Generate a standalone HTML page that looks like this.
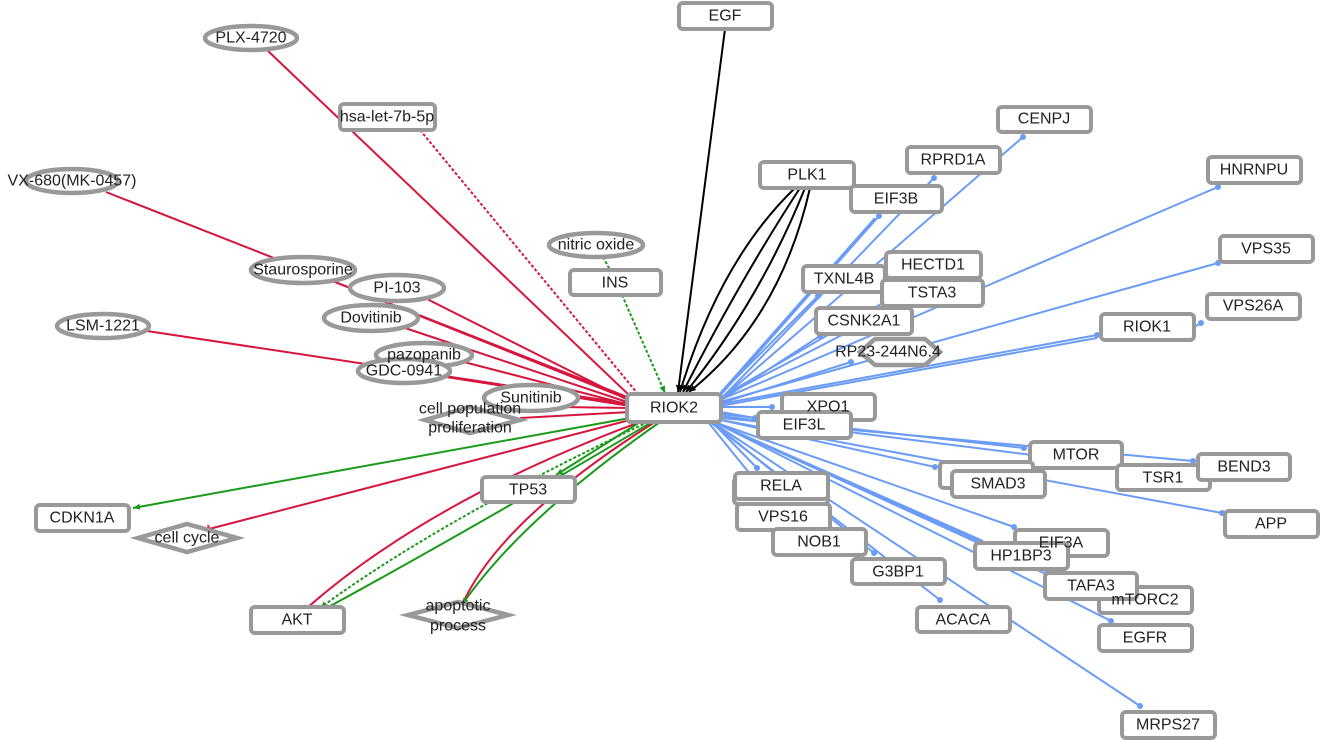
<!DOCTYPE html>
<html><head><meta charset="utf-8"><style>
html,body{margin:0;padding:0;background:#fff;width:1322px;height:740px;overflow:hidden}
svg text{font-family:"Liberation Sans",sans-serif;font-size:16px;fill:#222;text-anchor:middle;dominant-baseline:central}
.b rect{fill:#fff;stroke:#999;stroke-width:4}
.e ellipse,.d polygon{fill:#fff;stroke:#999;stroke-width:4.5}
.r{stroke:#d6163e;stroke-width:2;fill:none}
.g{stroke:#1a9a1a;stroke-width:2;fill:none}
.bl{stroke:#6b9cf5;stroke-width:2;fill:none}
.k{stroke:#000;stroke-width:2;fill:none}
.dot{fill:#6b9cf5}
</style></head><body>
<svg width="1322" height="740" xmlns="http://www.w3.org/2000/svg">
<defs>
<marker id="ag" markerUnits="userSpaceOnUse" markerWidth="8" markerHeight="8" refX="7" refY="3" orient="auto"><path d="M0,0L7,3L0,6z" fill="#1a9a1a"/></marker>
<marker id="ak" markerUnits="userSpaceOnUse" markerWidth="8" markerHeight="8" refX="7" refY="3" orient="auto"><path d="M0,0L7,3L0,6z" fill="#000"/></marker>
<marker id="tr" markerUnits="userSpaceOnUse" markerWidth="4" markerHeight="10" refX="2" refY="5" orient="auto"><path d="M2,1L2,9" stroke="#d6163e" stroke-width="2"/></marker>
</defs>
<g class="bl">
<line x1="720" y1="400" x2="1023" y2="137"/>
<line x1="720" y1="400" x2="934" y2="178"/>
<line x1="718" y1="398" x2="879" y2="216"/>
<line x1="716" y1="398" x2="875" y2="218"/>
<line x1="720" y1="400" x2="1218" y2="187"/>
<line x1="720" y1="402" x2="1218" y2="263"/>
<line x1="716" y1="398" x2="818" y2="296"/>
<line x1="716" y1="400" x2="905" y2="290"/>
<line x1="716" y1="400" x2="900" y2="305"/>
<line x1="718" y1="402" x2="820" y2="336"/>
<line x1="718" y1="404" x2="851" y2="362"/>
<line x1="720" y1="404" x2="1097" y2="335"/>
<line x1="720" y1="406" x2="1097" y2="338"/>
<line x1="1194" y1="327" x2="1203" y2="322"/>
<line x1="721" y1="407" x2="772" y2="407"/>
<line x1="721" y1="412" x2="755" y2="418"/>
<line x1="721" y1="414" x2="1024" y2="448"/>
<line x1="721" y1="416" x2="1152" y2="470"/>
<line x1="721" y1="418" x2="1193" y2="461"/>
<line x1="721" y1="420" x2="935" y2="467"/>
<line x1="721" y1="420" x2="1222" y2="513"/>
<line x1="712" y1="422" x2="757" y2="468"/>
<line x1="708" y1="422" x2="750" y2="474"/>
<line x1="712" y1="422" x2="830" y2="518"/>
<line x1="714" y1="422" x2="1014" y2="527"/>
<line x1="714" y1="422" x2="983" y2="541"/>
<line x1="712" y1="422" x2="874" y2="553"/>
<line x1="714" y1="422" x2="1070" y2="585"/>
<line x1="714" y1="422" x2="1110" y2="600"/>
<line x1="710" y1="422" x2="940" y2="600"/>
<line x1="714" y1="422" x2="1111" y2="621"/>
<line x1="712" y1="422" x2="1140" y2="706"/>
</g>
<g class="dot">
<circle cx="1023" cy="137" r="3"/><circle cx="934" cy="178" r="3"/><circle cx="879" cy="216" r="3"/><circle cx="1218" cy="187" r="3"/><circle cx="1218" cy="263" r="3"/><circle cx="818" cy="296" r="3"/><circle cx="820" cy="336" r="3"/><circle cx="851" cy="362" r="3"/><circle cx="1097" cy="335" r="3"/><circle cx="1201" cy="323" r="3"/><circle cx="772" cy="407" r="3"/><circle cx="755" cy="418" r="3"/><circle cx="1024" cy="448" r="3"/><circle cx="1152" cy="470" r="3"/><circle cx="1193" cy="461" r="3"/><circle cx="935" cy="467" r="3"/><circle cx="1222" cy="513" r="3"/><circle cx="757" cy="468" r="3"/><circle cx="830" cy="518" r="3"/><circle cx="1014" cy="527" r="3"/><circle cx="874" cy="553" r="3"/><circle cx="940" cy="600" r="3"/><circle cx="1111" cy="621" r="3"/><circle cx="1140" cy="706" r="3"/>
</g>
<line class="k" x1="725" y1="29" x2="678" y2="392" marker-end="url(#ak)"/>
<path class="k" d="M795,188 Q720,260 680,392" marker-end="url(#ak)"/>
<path class="k" d="M800,188 Q740,280 683,392" marker-end="url(#ak)"/>
<path class="k" d="M805,188 Q760,300 686,392" marker-end="url(#ak)"/>
<path class="k" d="M810,188 Q780,320 689,392" marker-end="url(#ak)"/>
<g class="r">
<line x1="267" y1="50" x2="630" y2="396" marker-end="url(#tr)"/>
<line x1="420" y1="130" x2="638" y2="394" stroke-dasharray="3,2"/>
<line x1="106" y1="192" x2="630" y2="398" marker-end="url(#tr)"/>
<line x1="330" y1="280" x2="630" y2="400" marker-end="url(#tr)"/>
<line x1="425" y1="298" x2="630" y2="401" marker-end="url(#tr)"/>
<line x1="405" y1="328" x2="630" y2="403" marker-end="url(#tr)"/>
<line x1="147" y1="331" x2="630" y2="404" marker-end="url(#tr)"/>
<line x1="460" y1="361" x2="630" y2="405" marker-end="url(#tr)"/>
<line x1="440" y1="376" x2="630" y2="406" marker-end="url(#tr)"/>
<line x1="560" y1="407" x2="630" y2="408" marker-end="url(#tr)"/>
<line x1="520" y1="418" x2="630" y2="412" marker-end="url(#tr)"/>
<line x1="630" y1="420" x2="209" y2="529" marker-end="url(#tr)"/>
<path d="M640,422 Q430,500 307,608" marker-end="url(#tr)"/>
<path d="M655,422 Q500,520 462,605" marker-end="url(#tr)"/>
</g>
<g class="g">
<line x1="630" y1="418" x2="133" y2="508" marker-end="url(#ag)"/>
<line x1="640" y1="422" x2="556" y2="475" marker-end="url(#ag)"/>
<path d="M648,422 Q440,520 320,608" stroke-dasharray="3,2" marker-end="url(#ag)"/>
<path d="M652,422 Q470,530 323,610" marker-end="url(#ag)"/>
<path d="M660,422 Q520,520 462,605" marker-end="url(#ag)"/>
<line x1="603" y1="257" x2="610" y2="270" stroke-dasharray="3,2"/>
<line x1="622" y1="295" x2="665" y2="393" stroke-dasharray="3,2" marker-end="url(#ag)"/>
</g>
<g class="e">
<ellipse cx="251" cy="38" rx="46" ry="12"/>
<ellipse cx="72" cy="181" rx="46" ry="12"/>
<ellipse cx="303" cy="270" rx="52" ry="13"/>
<ellipse cx="397" cy="288" rx="47" ry="13"/>
<ellipse cx="371" cy="318" rx="47" ry="13"/>
<ellipse cx="103" cy="326" rx="46" ry="12"/>
<ellipse cx="424" cy="355" rx="48" ry="12"/>
<ellipse cx="404" cy="371" rx="46" ry="12"/>
<ellipse cx="531" cy="398" rx="47" ry="13"/>
<ellipse cx="596" cy="245" rx="47" ry="12"/>
</g>
<g class="d">
<polygon points="425,420 470,407 520,420 470,433"/>
<polygon points="138,538 187,524 237,538 187,552"/>
<polygon points="408,615 458,602 508,615 458,628"/>
<polygon points="860,352 875,339 925,339 940,352 925,365 875,365"/>
</g>
<g class="b">
<rect x="340" y="104" width="95" height="26" rx="4"/>
<rect x="679" y="3" width="93" height="26" rx="4"/>
<rect x="998" y="107" width="93" height="25" rx="4"/>
<rect x="907" y="147" width="93" height="26" rx="4"/>
<rect x="1208" y="157" width="93" height="26" rx="4"/>
<rect x="760" y="162" width="94" height="26" rx="4"/>
<rect x="851" y="186" width="91" height="26" rx="4"/>
<rect x="1220" y="236" width="93" height="26" rx="4"/>
<rect x="803" y="266" width="82" height="26" rx="4"/>
<rect x="886" y="252" width="95" height="26" rx="4"/>
<rect x="882" y="280" width="101" height="26" rx="4"/>
<rect x="1207" y="294" width="93" height="25" rx="4"/>
<rect x="816" y="308" width="96" height="26" rx="4"/>
<rect x="1101" y="314" width="93" height="26" rx="4"/>
<rect x="570" y="270" width="91" height="25" rx="4"/>
<rect x="627" y="394" width="94" height="28" rx="4"/>
<rect x="782" y="394" width="93" height="26" rx="4"/>
<rect x="758" y="412" width="93" height="26" rx="4"/>
<rect x="1030" y="442" width="92" height="26" rx="4"/>
<rect x="940" y="462" width="93" height="26" rx="4"/>
<rect x="952" y="471" width="93" height="26" rx="4"/>
<rect x="1117" y="465" width="93" height="25" rx="4"/>
<rect x="1198" y="454" width="92" height="26" rx="4"/>
<rect x="1225" y="511" width="93" height="26" rx="4"/>
<rect x="734" y="478" width="94" height="26" rx="4"/>
<rect x="735" y="473" width="93" height="26" rx="4"/>
<rect x="737" y="504" width="93" height="26" rx="4"/>
<rect x="773" y="529" width="93" height="26" rx="4"/>
<rect x="1015" y="530" width="93" height="26" rx="4"/>
<rect x="975" y="543" width="93" height="26" rx="4"/>
<rect x="852" y="559" width="93" height="25" rx="4"/>
<rect x="1099" y="587" width="93" height="26" rx="4"/>
<rect x="1045" y="573" width="92" height="26" rx="4"/>
<rect x="917" y="607" width="93" height="25" rx="4"/>
<rect x="1099" y="625" width="93" height="26" rx="4"/>
<rect x="1122" y="712" width="93" height="26" rx="4"/>
<rect x="482" y="477" width="93" height="25" rx="4"/>
<rect x="36" y="505" width="93" height="26" rx="4"/>
<rect x="251" y="607" width="93" height="26" rx="4"/>
</g>
<g>
<text x="251" y="38">PLX-4720</text>
<text x="387" y="117">hsa-let-7b-5p</text>
<text x="72" y="181">VX-680(MK-0457)</text>
<text x="303" y="270">Staurosporine</text>
<text x="397" y="288">PI-103</text>
<text x="371" y="318">Dovitinib</text>
<text x="103" y="326">LSM-1221</text>
<text x="424" y="355">pazopanib</text>
<text x="404" y="371">GDC-0941</text>
<text x="531" y="398">Sunitinib</text>
<text x="596" y="245">nitric oxide</text>
<text x="470" y="409">cell population</text>
<text x="470" y="428">proliferation</text>
<text x="187" y="538">cell cycle</text>
<text x="458" y="606">apoptotic</text>
<text x="458" y="626">process</text>
<text x="888" y="352">RP23-244N6.4</text>
<text x="725" y="16">EGF</text>
<text x="1044" y="119">CENPJ</text>
<text x="953" y="160">RPRD1A</text>
<text x="1254" y="170">HNRNPU</text>
<text x="807" y="175">PLK1</text>
<text x="896" y="199">EIF3B</text>
<text x="1266" y="249">VPS35</text>
<text x="844" y="279">TXNL4B</text>
<text x="933" y="265">HECTD1</text>
<text x="932" y="293">TSTA3</text>
<text x="1253" y="306">VPS26A</text>
<text x="864" y="321">CSNK2A1</text>
<text x="1147" y="327">RIOK1</text>
<text x="615" y="283">INS</text>
<text x="674" y="408">RIOK2</text>
<text x="828" y="407">XPO1</text>
<text x="804" y="425">EIF3L</text>
<text x="1076" y="455">MTOR</text>
<text x="998" y="484">SMAD3</text>
<text x="1163" y="478">TSR1</text>
<text x="1244" y="467">BEND3</text>
<text x="1271" y="524">APP</text>
<text x="781" y="486">RELA</text>
<text x="783" y="517">VPS16</text>
<text x="819" y="542">NOB1</text>
<text x="1061" y="543">EIF3A</text>
<text x="1021" y="556">HP1BP3</text>
<text x="898" y="572">G3BP1</text>
<text x="1145" y="600">mTORC2</text>
<text x="1091" y="586">TAFA3</text>
<text x="963" y="620">ACACA</text>
<text x="1145" y="638">EGFR</text>
<text x="1168" y="725">MRPS27</text>
<text x="528" y="490">TP53</text>
<text x="82" y="518">CDKN1A</text>
<text x="297" y="620">AKT</text>
</g>
</svg>
</body></html>
